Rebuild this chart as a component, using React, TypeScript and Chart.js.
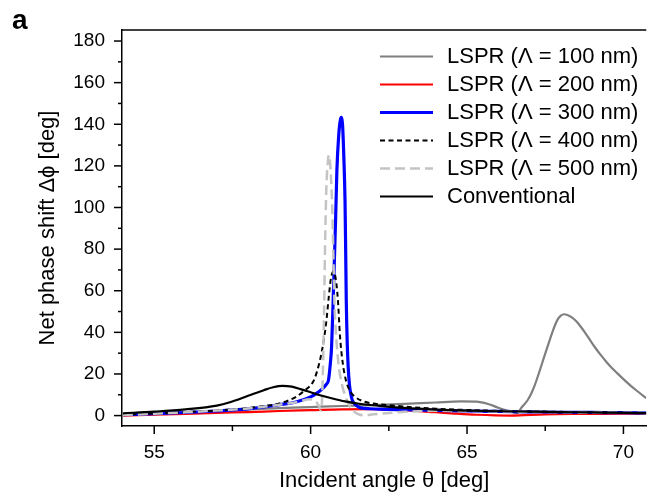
import React, { useEffect, useRef } from "react";
import { Chart, registerables } from "chart.js";

Chart.register(...registerables);

// ---------- axis ranges & ticks ----------
const xMin = 53.97;
const xMax = 70.73;
const yMin = -5;
const yMax = 185.3;
const xMajorTicks = [55, 60, 65, 70];
const xMinorTicks = [57.5, 62.5, 67.5];
const yMajorTicks = [0, 20, 40, 60, 80, 100, 120, 140, 160, 180];
const yMinorTicks = [10, 30, 50, 70, 90, 110, 130, 150, 170];

const seriesLabels = [
  "LSPR (\u039B = 100 nm)",
  "LSPR (\u039B = 200 nm)",
  "LSPR (\u039B = 300 nm)",
  "LSPR (\u039B = 400 nm)",
  "LSPR (\u039B = 500 nm)",
  "Conventional",
];

// ---------- data (incident angle [deg], net phase shift [deg]) ----------
const theta100 = [54, 55, 56, 57, 58, 59, 60, 61, 62, 63, 64, 64.8, 65.3, 65.67, 66, 66.25, 66.41, 66.6, 66.75, 66.94, 67.05, 67.15, 67.3, 67.45, 67.57, 67.75, 67.89, 68.0, 68.1, 68.35, 68.5, 68.63, 68.8, 68.95, 69.1, 69.26, 69.45, 69.6, 69.8, 70.0, 70.2, 70.4, 70.6, 70.73];
const phase100 = [0.5, 1.0, 1.6, 2.3, 3.0, 3.6, 4.1, 4.6, 5.0, 5.6, 6.3, 6.8, 6.7, 5.6, 3.8, 2.6, 1.9, 1.2, 4.0, 7.5, 10.5, 14, 20.5, 27.5, 33, 41, 46, 48, 48.7, 47.2, 45.2, 42.8, 39.3, 35.9, 32.6, 29.4, 25.9, 23.4, 20.4, 17.5, 14.8, 12.3, 9.9, 8.4];

const theta200 = [54, 55, 56, 57, 58, 59, 60, 61, 62, 62.5, 63, 64, 64.5, 65.3, 66.4, 67.5, 68.5, 70, 70.73];
const phase200 = [0, 0.4, 0.8, 1.3, 1.7, 2.2, 2.6, 3.0, 3.1, 2.9, 2.6, 1.6, 1.1, 0.4, 0, 0.6, 0.8, 0.9, 1.0];

const theta300 = [54, 55, 56, 57, 58, 59, 59.5, 60, 60.2, 60.38, 60.5, 60.57, 60.63, 60.67, 60.72, 60.76, 60.8, 60.84, 60.9, 60.95, 60.985, 61.02, 61.06, 61.1, 61.12, 61.14, 61.17, 61.2, 61.24, 61.28, 61.33, 61.45, 61.6, 61.9, 62.2, 63, 64, 65, 66, 67, 68, 69, 70, 70.73];
const phase300 = [0.4, 0.9, 1.5, 2.2, 3.2, 5.2, 6.4, 9.0, 10.8, 13, 15, 17, 25, 33, 55, 75, 95, 118, 135, 142, 143.3, 140, 125, 103, 80, 55, 35, 23.5, 15, 10.7, 7.5, 5, 3.7, 3.3, 3.1, 2.8, 2.5, 2.2, 2.0, 1.8, 1.6, 1.5, 1.4, 1.3];

const theta400 = [54, 55, 56, 57, 58, 58.5, 59, 59.54, 59.8, 60.07, 60.2, 60.36, 60.5, 60.58, 60.65, 60.73, 60.8, 60.87, 60.94, 61.02, 61.12, 61.25, 61.44, 61.7, 62.0, 62.5, 63, 64, 65, 66, 67, 68, 69, 70, 70.73];
const phase400 = [0.4, 1.0, 1.7, 2.5, 3.6, 4.6, 5.8, 9.1, 12, 16, 21, 31, 45, 57, 66, 69.2, 66, 56, 38, 26, 17.5, 12, 8.8, 6.8, 5.8, 5.0, 4.3, 3.3, 2.7, 2.3, 2.0, 1.8, 1.6, 1.4, 1.3];

const theta500 = [54, 55, 56, 57, 58, 59, 59.5, 60.0, 60.15, 60.27, 60.33, 60.36, 60.39, 60.43, 60.46, 60.5, 60.55, 60.59, 60.63, 60.67, 60.7, 60.73, 60.76, 60.8, 60.89, 61.0, 61.12, 61.25, 61.39, 61.55, 61.75, 62.0, 62.5, 63, 64, 65, 66, 67, 68, 69, 70, 70.73];
const phase500 = [0.3, 0.9, 1.6, 2.4, 3.4, 5.2, 6.3, 7.8, 7.0, 4.5, 2.5, 6, 20, 50, 80, 108, 122, 125.2, 120, 108, 95, 75, 55, 42, 25, 15, 9, 4.5, 1.9, 0.5, 0.2, 0.6, 1.2, 1.8, 2.3, 2.2, 2.0, 1.8, 1.6, 1.5, 1.4, 1.3];

const thetaConv = [54, 55, 56, 57, 57.42, 58, 58.5, 58.8, 59.1, 59.4, 59.7, 60, 60.3, 60.7, 61.1, 61.5, 62.2, 63, 64, 65, 66, 67, 68, 69, 70, 70.73];
const phaseConv = [1.1, 1.9, 3.0, 4.8, 6.4, 9.5, 12.2, 13.6, 14.3, 13.9, 12.6, 11.2, 9.8, 8.2, 6.8, 5.8, 4.7, 3.7, 2.9, 2.4, 2.1, 1.9, 1.7, 1.5, 1.3, 1.2];

const pts = (xs: number[], ys: number[]) => xs.map((x, i) => ({ x, y: ys[i] }));

const FONT = "'Liberation Sans', Arial, Helvetica, sans-serif";

const decorPlugin = {
  id: "decor",
  afterDraw(chart: any) {
    const { ctx, chartArea } = chart;
    const xs = chart.scales.x;
    const ys = chart.scales.y;
    ctx.save();
    ctx.strokeStyle = "#000";
    ctx.lineWidth = 1.5;
    ctx.beginPath();
    ctx.moveTo(chartArea.left, chartArea.top);
    ctx.lineTo(chartArea.right, chartArea.top);
    ctx.stroke();
    const tick = (x1: number, y1: number, x2: number, y2: number) => {
      ctx.beginPath();
      ctx.moveTo(x1, y1);
      ctx.lineTo(x2, y2);
      ctx.stroke();
    };
    yMajorTicks.forEach((v) => {
      const p = ys.getPixelForValue(v);
      tick(chartArea.left - 8, p, chartArea.left, p);
    });
    yMinorTicks.forEach((v) => {
      const p = ys.getPixelForValue(v);
      tick(chartArea.left - 4, p, chartArea.left, p);
    });
    xMajorTicks.forEach((v) => {
      const p = xs.getPixelForValue(v);
      tick(p, chartArea.bottom, p, chartArea.bottom + 8);
    });
    xMinorTicks.forEach((v) => {
      const p = xs.getPixelForValue(v);
      tick(p, chartArea.bottom, p, chartArea.bottom + 5);
    });

    // legend
    const lx1 = 380;
    const lx2 = 433;
    const tx = 447;
    const y0 = 56.5;
    const dy = 28;
    chart.data.datasets.forEach((ds: any, i: number) => {
      const yy = y0 + i * dy;
      ctx.save();
      ctx.strokeStyle = ds.borderColor;
      ctx.lineWidth = ds.borderWidth;
      ctx.setLineDash(ds.borderDash || []);
      ctx.beginPath();
      ctx.moveTo(lx1, yy);
      ctx.lineTo(lx2, yy);
      ctx.stroke();
      ctx.restore();
      ctx.fillStyle = "#000";
      ctx.font = `22px ${FONT}`;
      ctx.textBaseline = "middle";
      ctx.textAlign = "left";
      ctx.fillText(ds.label, tx, yy);
    });

    // panel label
    ctx.fillStyle = "#000";
    ctx.font = `bold 28px ${FONT}`;
    ctx.textBaseline = "alphabetic";
    ctx.textAlign = "left";
    ctx.fillText("a", 12, 29);
    ctx.restore();
  },
};

export default function App() {
  const ref = useRef<HTMLCanvasElement>(null);

  useEffect(() => {
    if (!ref.current) return;
    Chart.defaults.font.family = FONT;
    Chart.defaults.color = "#000";
    const common = { pointRadius: 0, fill: false, cubicInterpolationMode: "monotone" as const };
    const chart = new Chart(ref.current, {
      type: "line",
      data: {
        datasets: [
          { ...common, label: seriesLabels[0], data: pts(theta100, phase100), borderColor: "#7f7f7f", borderWidth: 2.2, order: 6 },
          { ...common, label: seriesLabels[1], data: pts(theta200, phase200), borderColor: "#ff0000", borderWidth: 2.2, order: 5 },
          { ...common, label: seriesLabels[2], data: pts(theta300, phase300), borderColor: "#0000ff", borderWidth: 3.2, order: 4 },
          { ...common, label: seriesLabels[3], data: pts(theta400, phase400), borderColor: "#000000", borderWidth: 2, borderDash: [5, 3.5], order: 3 },
          { ...common, label: seriesLabels[4], data: pts(theta500, phase500), borderColor: "#c4c4c4", borderWidth: 2.5, borderDash: [10, 5], order: 2 },
          { ...common, label: seriesLabels[5], data: pts(thetaConv, phaseConv), borderColor: "#000000", borderWidth: 2.2, order: 1 },
        ],
      },
      options: {
        animation: false,
        responsive: false,
        layout: { padding: { left: 0, top: 30, right: 0, bottom: 0 } },
        plugins: { legend: { display: false }, tooltip: { enabled: false } },
        scales: {
          x: {
            type: "linear",
            min: xMin,
            max: xMax,
            afterBuildTicks: (s: any) => {
              s.ticks = xMajorTicks.map((v) => ({ value: v }));
            },
            afterFit: (s: any) => {
              s.height = 66;
            },
            grid: { display: false, drawTicks: false },
            border: { display: true, color: "#000", width: 1.5 },
            ticks: {
              padding: 15,
              font: { size: 19 },
              color: "#000",
              maxRotation: 0,
              callback: (v: any) => String(v),
            },
            title: {
              display: true,
              text: "Incident angle \u03B8 [deg]",
              font: { size: 22 },
              color: "#000",
              padding: { top: 0, bottom: -2 },
            },
          },
          y: {
            type: "linear",
            min: yMin,
            max: yMax,
            afterBuildTicks: (s: any) => {
              s.ticks = yMajorTicks.map((v) => ({ value: v }));
            },
            afterFit: (s: any) => {
              s.width = 122;
            },
            grid: { display: false, drawTicks: false },
            border: { display: true, color: "#000", width: 1.5 },
            ticks: {
              padding: 17,
              font: { size: 19 },
              color: "#000",
              callback: (v: any) => String(v),
            },
            title: {
              display: true,
              text: "Net phase shift \u0394\u03D5 [deg]",
              font: { size: 22 },
              color: "#000",
              padding: { top: 35, bottom: 0 },
            },
          },
        },
      },
      plugins: [decorPlugin],
    });
    return () => chart.destroy();
  }, []);

  return (
    <div style={{ position: "fixed", left: 0, top: 0, width: 649, height: 492, background: "#fff" }}>
      <canvas ref={ref} width={649} height={492} style={{ display: "block", width: "649px", height: "492px" }} />
    </div>
  );
}
